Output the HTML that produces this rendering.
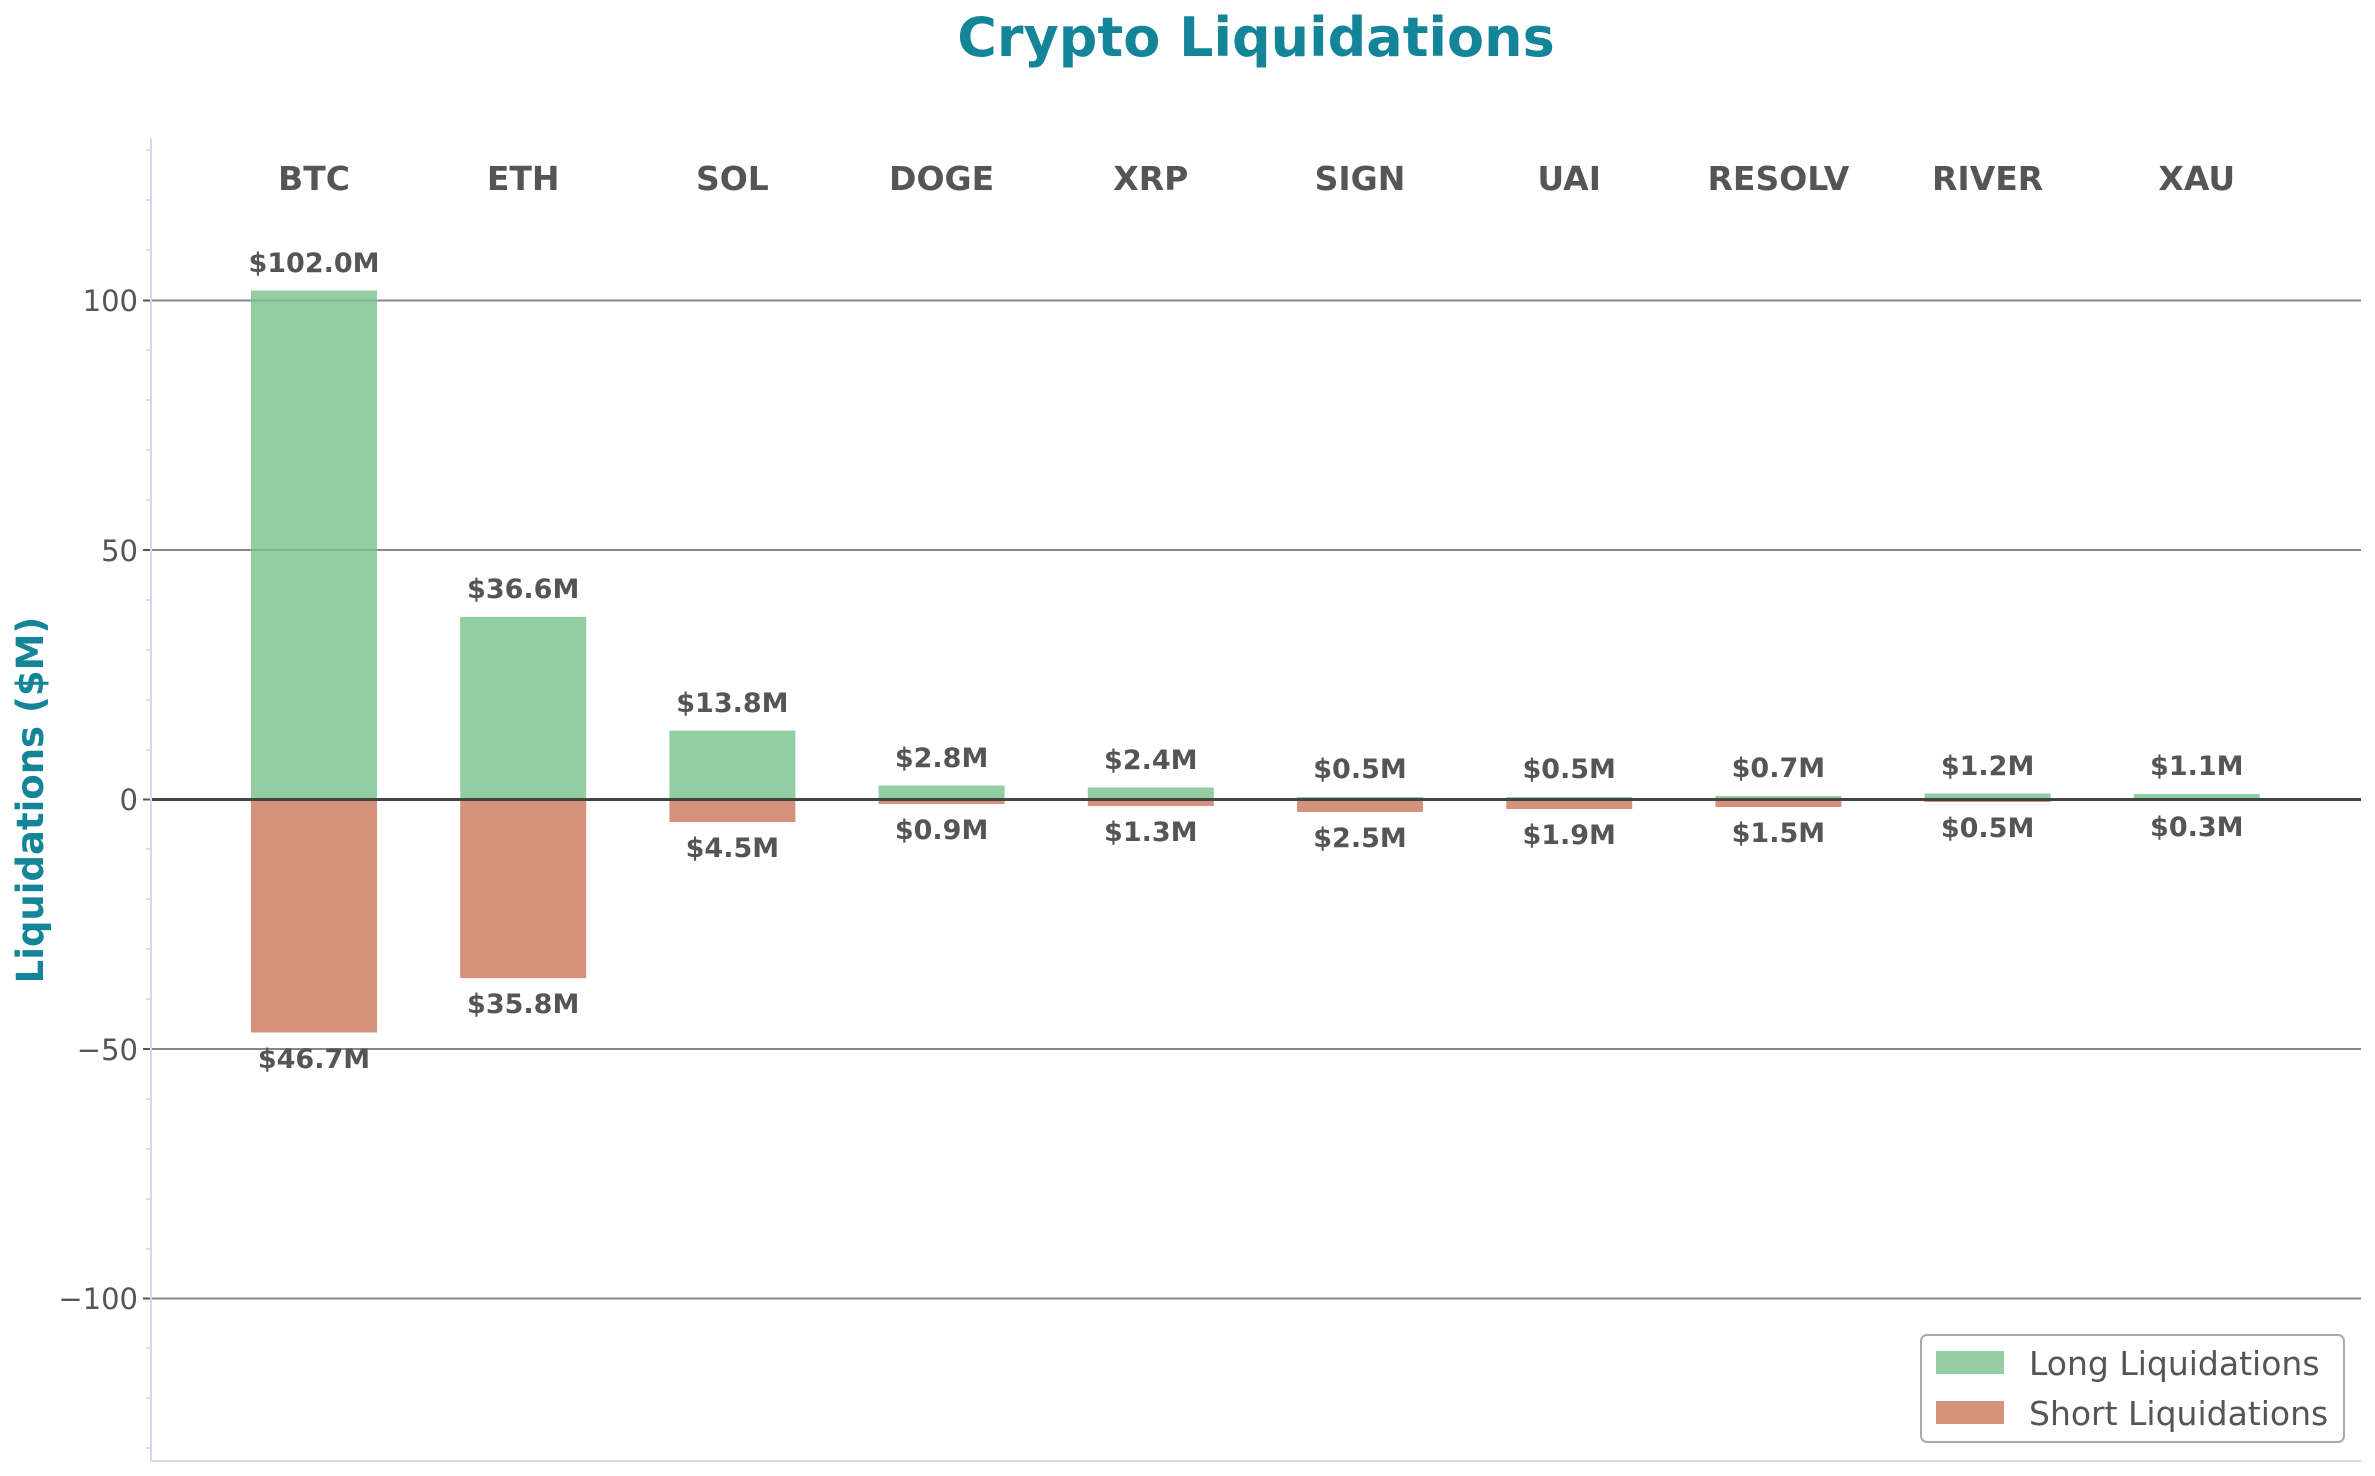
<!DOCTYPE html>
<html><head><meta charset="utf-8"><style>
html,body{margin:0;padding:0;background:#fff;}
svg{display:block;font-family:"DejaVu Sans","Liberation Sans",sans-serif;}
.c{font-weight:bold;font-size:33px;fill:#555;text-anchor:middle;}
.v{font-weight:bold;font-size:27px;fill:#555;text-anchor:middle;}
.t{font-size:29px;fill:#555;text-anchor:end;}
.g{fill:#78c28b;fill-opacity:0.8;}
.r{fill:#cb765b;fill-opacity:0.8;}
</style></head><body>
<svg width="2375" height="1476" viewBox="0 0 2375 1476" xmlns="http://www.w3.org/2000/svg">
<text x="1256" y="56" font-size="54" font-weight="bold" fill="#148599" text-anchor="middle">Crypto Liquidations</text>
<text transform="translate(43,800) rotate(-90)" font-size="37" font-weight="bold" fill="#148599" text-anchor="middle">Liquidations ($M)</text>
<g stroke="#888" stroke-width="2">
<line x1="151" x2="2361" y1="300.5" y2="300.5"/>
<line x1="151" x2="2361" y1="550" y2="550"/>
<line x1="151" x2="2361" y1="1049" y2="1049"/>
<line x1="151" x2="2361" y1="1298.5" y2="1298.5"/>
</g>
<g stroke="#ccd3e3" stroke-width="1.5">
<line x1="146" x2="151" y1="150" y2="150"/><line x1="146" x2="151" y1="200" y2="200"/><line x1="146" x2="151" y1="250" y2="250"/>
<line x1="146" x2="151" y1="350" y2="350"/><line x1="146" x2="151" y1="400" y2="400"/><line x1="146" x2="151" y1="450" y2="450"/><line x1="146" x2="151" y1="500" y2="500"/>
<line x1="146" x2="151" y1="600" y2="600"/><line x1="146" x2="151" y1="650" y2="650"/><line x1="146" x2="151" y1="700" y2="700"/><line x1="146" x2="151" y1="750" y2="750"/>
<line x1="146" x2="151" y1="849" y2="849"/><line x1="146" x2="151" y1="899" y2="899"/><line x1="146" x2="151" y1="949" y2="949"/><line x1="146" x2="151" y1="999" y2="999"/>
<line x1="146" x2="151" y1="1099" y2="1099"/><line x1="146" x2="151" y1="1149" y2="1149"/><line x1="146" x2="151" y1="1199" y2="1199"/><line x1="146" x2="151" y1="1249" y2="1249"/>
<line x1="146" x2="151" y1="1348" y2="1348"/><line x1="146" x2="151" y1="1398" y2="1398"/><line x1="146" x2="151" y1="1448" y2="1448"/>
</g>
<g stroke="#555" stroke-width="2">
<line x1="143" x2="151" y1="300.5" y2="300.5"/><line x1="143" x2="151" y1="550" y2="550"/><line x1="143" x2="151" y1="799.5" y2="799.5"/><line x1="143" x2="151" y1="1049" y2="1049"/><line x1="143" x2="151" y1="1298.5" y2="1298.5"/>
</g>
<text class="t" x="138" y="311">100</text>
<text class="t" x="138" y="561">50</text>
<text class="t" x="138" y="810">0</text>
<text class="t" x="138" y="1060">−50</text>
<text class="t" x="138" y="1309">−100</text>
<rect class="g" x="251" y="290.5" width="126" height="509"/>
<rect class="g" x="460.2" y="616.9" width="126" height="182.6"/>
<rect class="g" x="669.4" y="730.6" width="126" height="68.9"/>
<rect class="g" x="878.6" y="785.5" width="126" height="14"/>
<rect class="g" x="1087.8" y="787.5" width="126" height="12"/>
<rect class="g" x="1297" y="797" width="126" height="2.5"/>
<rect class="g" x="1506.2" y="797" width="126" height="2.5"/>
<rect class="g" x="1715.4" y="796" width="126" height="3.5"/>
<rect class="g" x="1924.6" y="793.5" width="126" height="6"/>
<rect class="g" x="2133.8" y="794" width="126" height="5.5"/>
<rect class="r" x="251" y="799.5" width="126" height="233"/>
<rect class="r" x="460.2" y="799.5" width="126" height="178.6"/>
<rect class="r" x="669.4" y="799.5" width="126" height="22.5"/>
<rect class="r" x="878.6" y="799.5" width="126" height="4.5"/>
<rect class="r" x="1087.8" y="799.5" width="126" height="6.5"/>
<rect class="r" x="1297" y="799.5" width="126" height="12.5"/>
<rect class="r" x="1506.2" y="799.5" width="126" height="9.5"/>
<rect class="r" x="1715.4" y="799.5" width="126" height="7.5"/>
<rect class="r" x="1924.6" y="799.5" width="126" height="2.5"/>
<rect class="r" x="2133.8" y="799.5" width="126" height="1.5"/>
<line x1="151" x2="2361" y1="799.5" y2="799.5" stroke="#444" stroke-width="3"/>
<line x1="151" x2="151" y1="138" y2="1462" stroke="#d3dae9" stroke-width="2"/>
<line x1="150" x2="2361" y1="1461" y2="1461" stroke="#d3dae9" stroke-width="2"/>
<text class="c" x="314" y="190">BTC</text>
<text class="c" x="523.2" y="190">ETH</text>
<text class="c" x="732.4" y="190">SOL</text>
<text class="c" x="941.6" y="190">DOGE</text>
<text class="c" x="1150.8" y="190">XRP</text>
<text class="c" x="1360" y="190">SIGN</text>
<text class="c" x="1569.2" y="190">UAI</text>
<text class="c" x="1778.4" y="190">RESOLV</text>
<text class="c" x="1987.6" y="190">RIVER</text>
<text class="c" x="2196.8" y="190">XAU</text>
<text class="v" x="314" y="272">$102.0M</text>
<text class="v" x="523.2" y="598">$36.6M</text>
<text class="v" x="732.4" y="712">$13.8M</text>
<text class="v" x="941.6" y="767">$2.8M</text>
<text class="v" x="1150.8" y="769">$2.4M</text>
<text class="v" x="1360" y="778">$0.5M</text>
<text class="v" x="1569.2" y="778">$0.5M</text>
<text class="v" x="1778.4" y="777">$0.7M</text>
<text class="v" x="1987.6" y="775">$1.2M</text>
<text class="v" x="2196.8" y="775">$1.1M</text>
<text class="v" x="314" y="1068">$46.7M</text>
<text class="v" x="523.2" y="1013">$35.8M</text>
<text class="v" x="732.4" y="857">$4.5M</text>
<text class="v" x="941.6" y="839">$0.9M</text>
<text class="v" x="1150.8" y="841">$1.3M</text>
<text class="v" x="1360" y="847">$2.5M</text>
<text class="v" x="1569.2" y="844">$1.9M</text>
<text class="v" x="1778.4" y="842">$1.5M</text>
<text class="v" x="1987.6" y="837">$0.5M</text>
<text class="v" x="2196.8" y="836">$0.3M</text>
<rect x="1921" y="1335" width="423" height="107" rx="6" fill="#fff" fill-opacity="0.9" stroke="#aaa" stroke-width="2"/>
<rect x="1936" y="1351" width="68" height="23" fill="#94cea2"/>
<rect x="1936" y="1401" width="68" height="23" fill="#d5917c"/>
<text x="2029" y="1375" font-size="33" fill="#555">Long Liquidations</text>
<text x="2029" y="1425" font-size="33" fill="#555">Short Liquidations</text>
</svg>
</body></html>
